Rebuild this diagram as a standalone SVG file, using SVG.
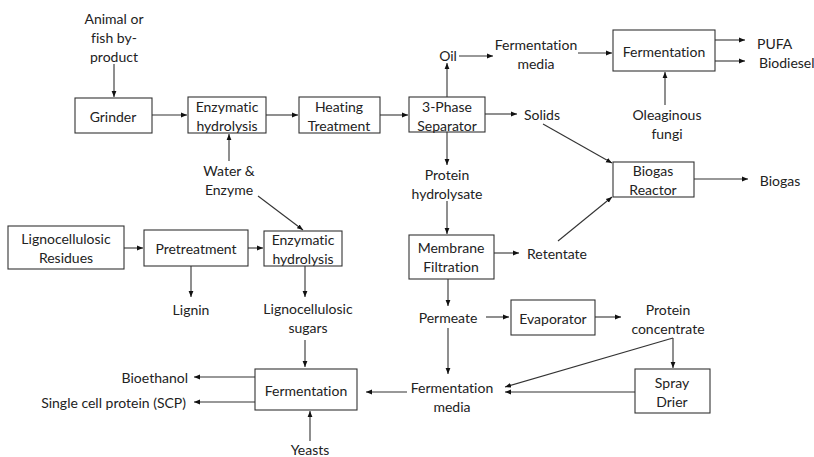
<svg xmlns="http://www.w3.org/2000/svg" width="814" height="457" viewBox="0 0 814 457">
<style>
text{font-family:Lato,"Liberation Sans",sans-serif;font-size:14px;fill:#222;text-anchor:middle;dominant-baseline:central;font-variant-ligatures:none;font-feature-settings:"liga" 0}
.b{fill:#fff;stroke:#333;stroke-width:1.1}
.c line,.c path{stroke:#333;stroke-width:1.1;fill:none}
.a{marker-end:url(#ah)}
</style>
<defs>
<marker id="ah" viewBox="0 0 10 10" refX="10" refY="5" markerWidth="6" markerHeight="6" markerUnits="userSpaceOnUse" orient="auto">
<path d="M0,1 L10,5 L0,9 z" fill="#111"/>
</marker>
</defs>
<rect width="814" height="457" fill="#fff"/>
<g class="c" id="connectors">
<line class="a" x1="114" y1="64" x2="114" y2="97"/>
<line class="a" x1="152" y1="115" x2="187" y2="115"/>
<line class="a" x1="266" y1="115" x2="298" y2="115"/>
<line class="a" x1="380" y1="115" x2="408" y2="115"/>
<line class="a" x1="229" y1="161" x2="229" y2="134"/>
<line class="a" x1="258" y1="196" x2="303" y2="230"/>
<line class="a" x1="447" y1="97" x2="447" y2="63"/>
<line class="a" x1="459" y1="56" x2="493" y2="56"/>
<line class="a" x1="578" y1="53" x2="612" y2="53"/>
<line class="a" x1="715" y1="40" x2="745" y2="40"/>
<line class="a" x1="715" y1="61" x2="745" y2="61"/>
<line class="a" x1="665" y1="105" x2="665" y2="72"/>
<line class="a" x1="485" y1="114" x2="517" y2="114"/>
<line class="a" x1="543" y1="124" x2="612" y2="163"/>
<line class="a" x1="694" y1="179" x2="748" y2="179"/>
<line class="a" x1="447" y1="132" x2="447" y2="165"/>
<line class="a" x1="447" y1="201" x2="447" y2="234"/>
<line class="a" x1="494" y1="253" x2="519" y2="253"/>
<line class="a" x1="558" y1="241" x2="612" y2="197"/>
<line class="a" x1="448" y1="279" x2="448" y2="306"/>
<line class="a" x1="486" y1="317" x2="509" y2="317"/>
<line class="a" x1="595" y1="317" x2="621" y2="317"/>
<line x1="673" y1="338" x2="505" y2="387" class="a"/>
<line class="a" x1="673" y1="338" x2="673" y2="368"/>
<line class="a" x1="635" y1="392" x2="505" y2="392"/>
<line class="a" x1="448" y1="328" x2="448" y2="374"/>
<line class="a" x1="407" y1="392" x2="366" y2="392"/>
<line class="a" x1="255" y1="377" x2="194" y2="377"/>
<line class="a" x1="255" y1="402" x2="194" y2="402"/>
<line class="a" x1="310" y1="441" x2="310" y2="411"/>
<line class="a" x1="305" y1="266" x2="305" y2="297"/>
<line class="a" x1="305" y1="340" x2="305" y2="367"/>
<line class="a" x1="248" y1="248" x2="263" y2="248"/>
<line class="a" x1="124" y1="248" x2="143" y2="248"/>
<line class="a" x1="191" y1="266" x2="191" y2="297"/>
</g>
<g id="animal"><text x="114" y="18">Animal or</text><text x="114" y="37">fish by-</text><text x="114" y="56">product</text></g>
<g id="grinder"><rect class="b" x="75" y="98" width="77" height="35"/><text x="113" y="116">Grinder</text></g>
<g id="enzhyd1"><rect class="b" x="188" y="97" width="78" height="36"/><text x="227" y="106">Enzymatic</text><text x="227" y="125">hydrolysis</text></g>
<g id="heating"><rect class="b" x="299" y="97" width="81" height="36"/><text x="339" y="106">Heating</text><text x="339" y="125">Treatment</text></g>
<g id="separator"><rect class="b" x="409" y="97" width="76" height="35"/><text x="447" y="106">3-Phase</text><text x="447" y="125">Separator</text></g>
<g id="water"><text x="229" y="170">Water &amp;</text><text x="229" y="189">Enzyme</text></g>
<g id="oil"><text x="448" y="55">Oil</text></g>
<g id="fermmedia1"><text x="536" y="44">Fermentation</text><text x="536" y="63">media</text></g>
<g id="ferm1"><rect class="b" x="613" y="30" width="102" height="41"/><text x="664" y="51">Fermentation</text></g>
<g id="pufa"><text x="757" y="43" style="text-anchor:start">PUFA</text></g>
<g id="biodiesel"><text x="759" y="62" style="text-anchor:start">Biodiesel</text></g>
<g id="fungi"><text x="667" y="114">Oleaginous</text><text x="667" y="133">fungi</text></g>
<g id="solids"><text x="542" y="114">Solids</text></g>
<g id="biogasreactor"><rect class="b" x="613" y="162" width="81" height="35"/><text x="653" y="170">Biogas</text><text x="653" y="189">Reactor</text></g>
<g id="biogas"><text x="780" y="180">Biogas</text></g>
<g id="protein"><text x="447" y="174">Protein</text><text x="447" y="193">hydrolysate</text></g>
<g id="membrane"><rect class="b" x="409" y="235" width="85" height="44"/><text x="451" y="247">Membrane</text><text x="451" y="266">Filtration</text></g>
<g id="retentate"><text x="557" y="253">Retentate</text></g>
<g id="permeate"><text x="448" y="317">Permeate</text></g>
<g id="evaporator"><rect class="b" x="511" y="300" width="84" height="35"/><text x="553" y="318">Evaporator</text></g>
<g id="concentrate"><text x="668" y="309">Protein</text><text x="668" y="328">concentrate</text></g>
<g id="spray"><rect class="b" x="635" y="369" width="75" height="44"/><text x="672" y="382">Spray</text><text x="672" y="401">Drier</text></g>
<g id="fermmedia2"><text x="452" y="387">Fermentation</text><text x="452" y="406">media</text></g>
<g id="ferm2"><rect class="b" x="255" y="369" width="102" height="41"/><text x="306" y="390">Fermentation</text></g>
<g id="bioethanol"><text x="188" y="377" style="text-anchor:end">Bioethanol</text></g>
<g id="scp"><text x="186" y="402" style="text-anchor:end">Single cell protein (SCP)</text></g>
<g id="yeasts"><text x="310" y="449">Yeasts</text></g>
<g id="sugars"><text x="308" y="308">Lignocellulosic</text><text x="308" y="327">sugars</text></g>
<g id="enzhyd2"><rect class="b" x="264" y="231" width="78" height="35"/><text x="303" y="239">Enzymatic</text><text x="303" y="258">hydrolysis</text></g>
<g id="pretreatment"><rect class="b" x="144" y="230" width="104" height="36"/><text x="196" y="248">Pretreatment</text></g>
<g id="residues"><rect class="b" x="8" y="226" width="116" height="43"/><text x="66" y="238">Lignocellulosic</text><text x="66" y="257">Residues</text></g>
<g id="lignin"><text x="191" y="309">Lignin</text></g>
</svg>
